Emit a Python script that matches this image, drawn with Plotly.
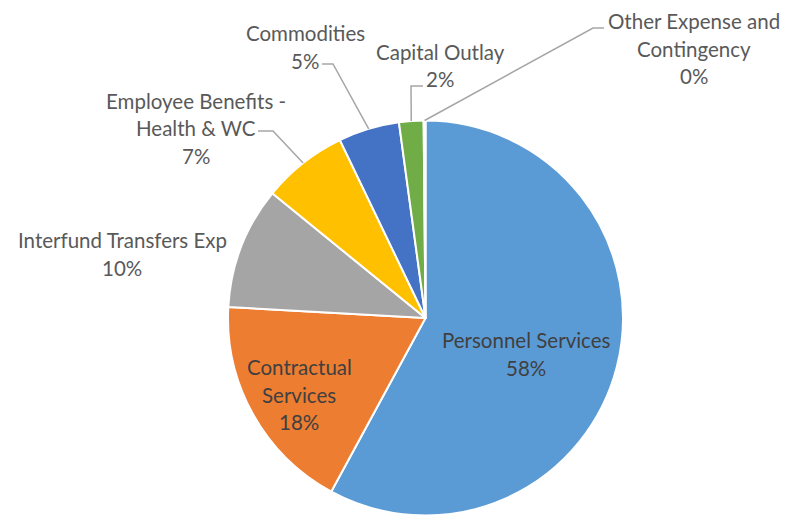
import math
import plotly.graph_objects as go

# Budget expenditure categories (percent of total)
categories = [
    "Personnel Services",
    "Contractual Services",
    "Interfund Transfers Exp",
    "Employee Benefits - Health & WC",
    "Commodities",
    "Capital Outlay",
    "Other Expense and Contingency",
]
shares = [58, 18, 10, 7, 5, 2, 0.15]
colors = ["#5B9BD5", "#ED7D31", "#A5A5A5", "#FFC000", "#4472C4", "#70AD47", "#264478"]

# Line-broken label text for each category
label_lines = [
    ["Personnel Services"],
    ["Contractual", "Services"],
    ["Interfund Transfers Exp"],
    ["Employee Benefits -", "Health & WC"],
    ["Commodities"],
    ["Capital Outlay"],
    ["Other Expense and", "Contingency"],
]

W, H = 787, 517
CX, CY, R = 425.5, 318.0, 197.5  # pie centre and radius in pixels
LINE_GAP = 27.5

# Label block placement: (centre x, first line y, inside?, elbow, leader end)
label_layout = [
    (526, 340, True, None, None),
    (299, 367, True, None, None),
    (122, 240, False, None, None),
    (196, 101, False, (273, 131), (258, 131)),
    (305, 33, False, (333, 64), (322, 64)),
    (440, 52, False, (411, 86), (423, 86)),
    (694, 21, False, (593, 28), (604, 28)),
]


def px(x):
    return x / W


def py(y):
    return 1 - y / H


fig = go.Figure(
    go.Pie(
        labels=categories,
        values=shares,
        sort=False,
        direction="clockwise",
        rotation=0,
        marker=dict(colors=colors, line=dict(color="white", width=2)),
        textinfo="none",
        hoverinfo="label+percent",
        showlegend=False,
        domain=dict(x=[px(CX - R), px(CX + R)], y=[py(CY + R), py(CY - R)]),
    )
)

total = sum(shares)
cum = 0.0
annotations = []
shapes = []
for name, lines, val, lay in zip(categories, label_lines, shares, label_layout):
    mid = (cum + val / 2) / total * 2 * math.pi
    cum += val
    lx, ly, inside, elbow, end = lay
    text_lines = lines + [f"{round(val / total * 100):.0f}%"]
    color = "#404040" if inside else "#595959"
    for i, t in enumerate(text_lines):
        annotations.append(
            dict(
                x=px(lx), y=py(ly + i * LINE_GAP), xref="paper", yref="paper",
                text=t, showarrow=False, xanchor="center", yanchor="middle",
                font=dict(family="Lato, Carlito, sans-serif", size=20.5, color=color),
            )
        )
    if elbow is not None:
        sx = CX + R * math.sin(mid)
        sy = CY - R * math.cos(mid)
        path = (
            f"M {px(sx)} {py(sy)} L {px(elbow[0])} {py(elbow[1])} "
            f"L {px(end[0])} {py(end[1])}"
        )
        shapes.append(
            dict(type="path", xref="paper", yref="paper", path=path,
                 line=dict(color="#A6A6A6", width=1.5))
        )

fig.update_layout(
    width=W, height=H,
    margin=dict(l=0, r=0, t=0, b=0),
    paper_bgcolor="white",
    plot_bgcolor="white",
    annotations=annotations,
    shapes=shapes,
)

fig.write_html("out.html")
